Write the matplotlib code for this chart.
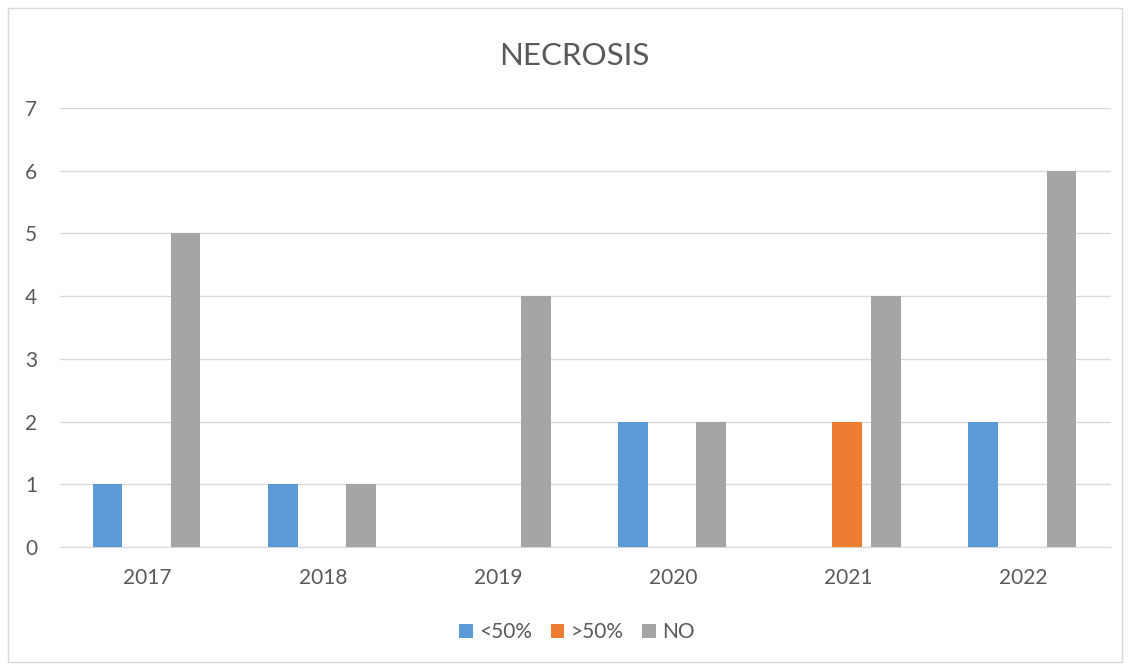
import matplotlib
matplotlib.use("Agg")
import matplotlib.pyplot as plt
from matplotlib.patches import Rectangle
import numpy as np

years = ["2017", "2018", "2019", "2020", "2021", "2022"]
lt50 = [1, 1, 0, 2, 0, 2]
gt50 = [0, 0, 0, 0, 2, 0]
no_ = [5, 1, 4, 2, 4, 6]
series_names = ["<50%", ">50%", "NO"]
colors = ["#5B9BD5", "#ED7D31", "#A5A5A5"]

plt.rcParams['font.family'] = ['Lato', 'DejaVu Sans']
fig = plt.figure(figsize=(11.31, 6.66), dpi=100)
ax = fig.add_axes([60/1131, 1-547/666, (1111-60)/1131, (547-108)/666])

x = np.arange(len(years))
w = 0.17
off = 0.223
for i, (vals, name, c) in enumerate(zip([lt50, gt50, no_], series_names, colors)):
    ax.bar(x + (i-1)*off - 0.006, vals, width=w, color=c, label=name, zorder=3)

ax.set_xlim(-0.5, len(years)-0.5)
ax.set_ylim(0, 7)
ax.set_yticks(range(0, 8))
ax.set_xticks(x)
ax.set_xticklabels(years)
ax.yaxis.grid(True, color="#D9D9D9", linewidth=1, zorder=0)
for s in ["top", "right", "left"]:
    ax.spines[s].set_visible(False)
ax.spines["bottom"].set_color("#D9D9D9")
ax.tick_params(axis='both', length=0, colors="#595959", labelsize=15)
ax.tick_params(axis='y', pad=16.5)
ax.tick_params(axis='x', pad=15)

fig.text(574/1131, 1-56/666, "NECROSIS", ha="center", va="center", fontsize=22.5, color="#595959")

leg = fig.legend(loc="center", bbox_to_anchor=(577/1131, 1-632/666), ncol=3, frameon=False,
                 fontsize=15, handlelength=0.65, handleheight=0.65, handletextpad=0.3, columnspacing=0.9)
for t in leg.get_texts():
    t.set_color("#595959")

fig.patches.append(Rectangle((8/1131, 4/666), 1114/1131, 654/666, transform=fig.transFigure,
                             fill=False, edgecolor="#D9D9D9", linewidth=1))

fig.savefig("out.png", dpi=100)
